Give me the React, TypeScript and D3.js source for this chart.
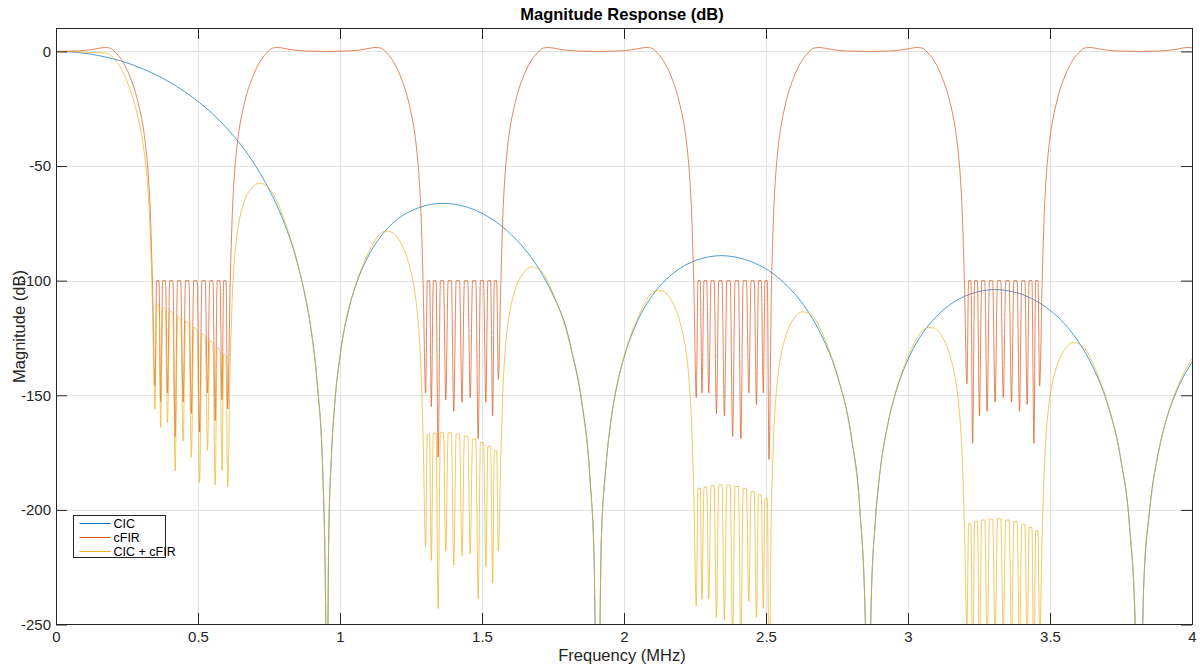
import React, { useEffect, useRef } from 'react';
import * as d3 from 'd3';

// [frequency MHz, magnitude dB]
const cicResponse: [number, number][] = [
  [0, 0], [0.05, -0.2], [0.1, -0.8], [0.15, -1.8], [0.2, -3.2], [0.25, -5], [0.3, -7.3], [0.35, -10.1],
  [0.4, -13.4], [0.45, -17.3], [0.5, -21.8], [0.55, -27.1], [0.6, -33.3], [0.65, -40.6], [0.7, -49.4],
  [0.75, -60.1], [0.8, -73.7], [0.85, -92.4], [0.88, -108.5], [0.9, -123], [0.92, -145], [0.94, -186],
  [0.95, -250], [0.953, -330], [0.96, -214], [0.97, -176], [0.98, -156], [1, -133], [1.03, -113],
  [1.06, -100.5], [1.1, -89.2], [1.15, -79.7], [1.2, -73.4], [1.25, -69.6], [1.3, -67.3], [1.36, -66.3],
  [1.4, -66.6], [1.45, -68], [1.5, -70.6], [1.55, -74.4], [1.6, -79.5], [1.65, -86.2], [1.7, -94.8],
  [1.75, -106.3], [1.8, -122.3], [1.82, -133], [1.85, -152], [1.88, -186], [1.895, -223], [1.906, -330],
  [1.92, -214], [1.935, -183], [1.95, -165], [1.98, -143], [2, -133.5], [2.05, -117], [2.1, -106.4],
  [2.15, -99.3], [2.2, -94.4], [2.25, -91.3], [2.3, -89.6], [2.34, -89.1], [2.4, -89.9], [2.45, -91.8],
  [2.5, -94.9], [2.55, -99.4], [2.6, -105.6], [2.65, -113.8], [2.7, -125], [2.75, -141], [2.8, -168],
  [2.83, -199], [2.85, -250], [2.859, -330], [2.87, -242], [2.885, -205], [2.9, -185], [2.93, -162],
  [2.96, -147.5], [3, -134.4], [3.05, -123.2], [3.1, -115.6], [3.15, -110.3], [3.2, -106.8], [3.25, -104.7],
  [3.31, -103.9], [3.35, -104.4], [3.4, -105.9], [3.45, -108.8], [3.5, -112.9], [3.55, -118.7],
  [3.6, -126.6], [3.65, -137.4], [3.7, -152.9], [3.75, -178.5], [3.78, -207], [3.8, -250], [3.812, -330],
  [3.83, -233], [3.85, -201], [3.88, -176], [3.9, -165], [3.95, -147], [4, -135.6],
];

const cfirResponse: [number, number][] = [
  [0, 0], [0.05, 0.1], [0.1, 0.4], [0.14, 1.1], [0.17, 1.7], [0.19, 1.5], [0.21, -0.5], [0.23, -3.5],
  [0.25, -8], [0.265, -12.5], [0.28, -18], [0.295, -25.5], [0.308, -34], [0.318, -44], [0.326, -56],
  [0.332, -70], [0.336, -85], [0.3395, -100],
  [0.3485, -146], [0.3545, -100], [0.3625, -100], [0.3685, -153], [0.3757, -100], [0.3853, -100],
  [0.3925, -149], [0.4006, -100], [0.4114, -100], [0.4195, -168], [0.4279, -100], [0.4391, -100],
  [0.4475, -153], [0.4562, -100], [0.4678, -100], [0.4765, -158], [0.4852, -100], [0.4968, -100],
  [0.5055, -166], [0.5139, -100], [0.5251, -100], [0.5335, -149], [0.5416, -100], [0.5524, -100],
  [0.5605, -161], [0.5677, -100], [0.5773, -100], [0.5845, -152], [0.5905, -100], [0.5985, -100],
  [0.6045, -156], [0.6135, -100],
  [0.617, -85], [0.621, -70], [0.627, -56], [0.635, -44], [0.645, -34], [0.658, -25.5], [0.673, -18],
  [0.688, -12.5], [0.703, -8], [0.723, -3.5], [0.743, -0.5], [0.763, 1.5], [0.783, 1.7], [0.813, 1.1],
  [0.853, 0.4], [0.903, 0.1], [0.953, 0], [1.003, 0.1], [1.053, 0.4], [1.093, 1.1], [1.123, 1.7],
  [1.143, 1.5], [1.163, -0.5], [1.183, -3.5], [1.203, -8], [1.218, -12.5], [1.233, -18], [1.248, -25.5],
  [1.261, -34], [1.271, -44], [1.279, -56], [1.285, -70], [1.289, -85], [1.2925, -100],
  [1.3015, -149], [1.3075, -100], [1.3155, -100], [1.3215, -155], [1.3287, -100], [1.3383, -100],
  [1.3455, -177], [1.3536, -100], [1.3644, -100], [1.3725, -152], [1.3809, -100], [1.3921, -100],
  [1.4005, -157], [1.4092, -100], [1.4208, -100], [1.4295, -153], [1.4382, -100], [1.4498, -100],
  [1.4585, -151], [1.4669, -100], [1.4781, -100], [1.4865, -169], [1.4946, -100], [1.5054, -100],
  [1.5135, -153], [1.5207, -100], [1.5303, -100], [1.5375, -159], [1.5435, -100], [1.5515, -100],
  [1.5575, -143], [1.5665, -100],
  [1.57, -85], [1.574, -70], [1.58, -56], [1.588, -44], [1.598, -34], [1.611, -25.5], [1.626, -18],
  [1.641, -12.5], [1.656, -8], [1.676, -3.5], [1.696, -0.5], [1.716, 1.5], [1.736, 1.7], [1.766, 1.1],
  [1.806, 0.4], [1.856, 0.1], [1.906, 0], [1.956, 0.1], [2.006, 0.4], [2.046, 1.1], [2.076, 1.7],
  [2.096, 1.5], [2.116, -0.5], [2.136, -3.5], [2.156, -8], [2.171, -12.5], [2.186, -18], [2.201, -25.5],
  [2.214, -34], [2.224, -44], [2.232, -56], [2.238, -70], [2.242, -85], [2.2455, -100],
  [2.2545, -151], [2.2605, -100], [2.2685, -100], [2.2745, -149], [2.2817, -100], [2.2913, -100],
  [2.2985, -149], [2.3066, -100], [2.3174, -100], [2.3255, -158], [2.3339, -100], [2.3451, -100],
  [2.3535, -159], [2.3622, -100], [2.3738, -100], [2.3825, -168], [2.3912, -100], [2.4028, -100],
  [2.4115, -169], [2.4199, -100], [2.4311, -100], [2.4395, -149], [2.4476, -100], [2.4584, -100],
  [2.4665, -154], [2.4737, -100], [2.4833, -100], [2.4905, -149], [2.4965, -100], [2.5045, -100],
  [2.5105, -178], [2.5195, -100],
  [2.523, -85], [2.527, -70], [2.533, -56], [2.541, -44], [2.551, -34], [2.564, -25.5], [2.579, -18],
  [2.594, -12.5], [2.609, -8], [2.629, -3.5], [2.649, -0.5], [2.669, 1.5], [2.689, 1.7], [2.719, 1.1],
  [2.759, 0.4], [2.809, 0.1], [2.859, 0], [2.909, 0.1], [2.959, 0.4], [2.999, 1.1], [3.029, 1.7],
  [3.049, 1.5], [3.069, -0.5], [3.089, -3.5], [3.109, -8], [3.124, -12.5], [3.139, -18], [3.154, -25.5],
  [3.167, -34], [3.177, -44], [3.185, -56], [3.191, -70], [3.195, -85], [3.1985, -100],
  [3.2075, -145], [3.2135, -100], [3.2215, -100], [3.2275, -171], [3.2347, -100], [3.2443, -100],
  [3.2515, -159], [3.2596, -100], [3.2704, -100], [3.2785, -157], [3.2869, -100], [3.2981, -100],
  [3.3065, -153], [3.3152, -100], [3.3268, -100], [3.3355, -151], [3.3442, -100], [3.3558, -100],
  [3.3645, -153], [3.3729, -100], [3.3841, -100], [3.3925, -157], [3.4006, -100], [3.4114, -100],
  [3.4195, -154], [3.4267, -100], [3.4363, -100], [3.4435, -171], [3.4495, -100], [3.4575, -100],
  [3.4635, -146], [3.4725, -100],
  [3.476, -85], [3.48, -70], [3.486, -56], [3.494, -44], [3.504, -34], [3.517, -25.5], [3.532, -18],
  [3.547, -12.5], [3.562, -8], [3.582, -3.5], [3.602, -0.5], [3.622, 1.5], [3.642, 1.7], [3.672, 1.1],
  [3.712, 0.4], [3.762, 0.1], [3.812, 0], [3.862, 0.1], [3.912, 0.4], [3.952, 1.1], [3.982, 1.7], [4, 1.6],
];

const combinedResponse: [number, number][] = [
  [0, 0], [0.05, -0.1], [0.1, -0.4], [0.14, -0.5], [0.17, -0.6], [0.19, -1.4], [0.21, -4], [0.23, -7.7],
  [0.25, -13], [0.265, -18.2], [0.28, -24.4], [0.295, -32.6], [0.308, -41.7], [0.318, -52.3],
  [0.326, -64.7], [0.332, -79], [0.336, -94.3], [0.3395, -109.5],
  [0.3485, -156], [0.3545, -110.2], [0.3625, -111], [0.3685, -164], [0.3757, -111.6], [0.3853, -112.4],
  [0.3925, -162], [0.4006, -113.3], [0.4114, -114.3], [0.4195, -183], [0.4279, -115.5], [0.4391, -116.5],
  [0.4475, -170], [0.4562, -117.7], [0.4678, -118.9], [0.4765, -177], [0.4852, -120.4], [0.4968, -121.6],
  [0.5055, -188], [0.5139, -123.2], [0.5251, -124.4], [0.5335, -174], [0.5416, -126.2], [0.5524, -127.4],
  [0.5605, -189], [0.5677, -129.3], [0.5773, -130.3], [0.5845, -183], [0.5905, -132.2], [0.5985, -133],
  [0.6045, -190], [0.6135, -135.2],
  [0.617, -120.7], [0.621, -106.2], [0.627, -93.1], [0.635, -82.3], [0.645, -73.8], [0.658, -67.4],
  [0.673, -62.5], [0.688, -59.7], [0.703, -57.9], [0.723, -57.5], [0.743, -58.9], [0.763, -61.8],
  [0.783, -66.9], [0.813, -76.8], [0.853, -93.5], [0.903, -125.8], [0.92, -145], [0.94, -186],
  [0.95, -250], [0.953, -330], [0.96, -214], [0.97, -176], [0.98, -156], [1.003, -130.3],
  [1.053, -102.6], [1.093, -89.7], [1.123, -82.6], [1.143, -79.3], [1.163, -78.4], [1.183, -78.9],
  [1.203, -81.3], [1.218, -84.4], [1.233, -88.7], [1.248, -95.2], [1.261, -103], [1.271, -112.4],
  [1.279, -124.1], [1.285, -137.8], [1.289, -152.7], [1.2925, -167.5],
  [1.3015, -216], [1.3075, -167], [1.3155, -167], [1.3215, -222], [1.3287, -166.5], [1.3383, -166.5],
  [1.3455, -243], [1.3536, -166.3], [1.3644, -166.3], [1.3725, -218], [1.3809, -166.4], [1.3921, -166.4],
  [1.4005, -224], [1.4092, -166.9], [1.4208, -166.9], [1.4295, -220], [1.4382, -167.8], [1.4498, -167.8],
  [1.4585, -219], [1.4669, -169.1], [1.4781, -169.1], [1.4865, -239], [1.4946, -170.6], [1.5054, -170.6],
  [1.5135, -225], [1.5207, -172.4], [1.5303, -172.4], [1.5375, -232], [1.5435, -174.2], [1.5515, -174.2],
  [1.5575, -218], [1.5665, -175.8],
  [1.57, -161.2], [1.574, -146.6], [1.58, -133.2], [1.588, -122.1], [1.598, -113.3], [1.611, -106.3],
  [1.626, -100.8], [1.641, -97.4], [1.656, -95.1], [1.676, -94], [1.696, -94.8], [1.716, -96.9],
  [1.736, -101.5], [1.766, -110.5], [1.806, -126], [1.856, -157], [1.88, -186], [1.895, -223],
  [1.906, -330], [1.92, -214], [1.935, -183], [1.956, -159.3], [1.98, -143], [2.006, -130.6],
  [2.046, -116.9], [2.076, -109.3], [2.096, -105.6], [2.116, -104.4], [2.136, -104.5], [2.156, -106.6],
  [2.171, -109.5], [2.186, -113.6], [2.201, -119.9], [2.214, -127.4], [2.224, -136.7], [2.232, -148.3],
  [2.238, -162], [2.242, -176.8], [2.2455, -191.5],
  [2.2545, -242], [2.2605, -190.6], [2.2685, -190.6], [2.2745, -239], [2.2817, -190], [2.2913, -190],
  [2.2985, -239], [2.3066, -189.4], [2.3174, -189.4], [2.3255, -247], [2.3339, -189.1], [2.3451, -189.1],
  [2.3535, -248], [2.3622, -189.2], [2.3738, -189.2], [2.3825, -257], [2.3912, -189.8], [2.4028, -189.8],
  [2.4115, -259], [2.4199, -190.7], [2.4311, -190.7], [2.4395, -240], [2.4476, -192], [2.4584, -192],
  [2.4665, -247], [2.4737, -193.4], [2.4833, -193.4], [2.4905, -243], [2.4965, -195], [2.5045, -195],
  [2.5105, -274], [2.5195, -196.3],
  [2.523, -181.8], [2.527, -167.2], [2.533, -153.7], [2.541, -142.5], [2.551, -133.5], [2.564, -126.5],
  [2.579, -120.8], [2.594, -117.3], [2.609, -114.9], [2.629, -113.6], [2.649, -114.1], [2.669, -116.1],
  [2.689, -120.5], [2.719, -129.3], [2.759, -144.5], [2.809, -175], [2.83, -199], [2.85, -250],
  [2.859, -330], [2.87, -242], [2.885, -205], [2.909, -176.6], [2.93, -162], [2.959, -147.5],
  [2.999, -133.5], [3.029, -125.7], [3.049, -121.9], [3.069, -120.5], [3.089, -120.6], [3.109, -122.5],
  [3.124, -125.3], [3.139, -129.3], [3.154, -135.5], [3.167, -142.9], [3.177, -152.2], [3.185, -163.7],
  [3.191, -177.3], [3.195, -192.1], [3.1985, -206.9],
  [3.2075, -251], [3.2135, -206], [3.2215, -206], [3.2275, -277], [3.2347, -205.1], [3.2443, -205.1],
  [3.2515, -264], [3.2596, -204.4], [3.2704, -204.4], [3.2785, -261], [3.2869, -204], [3.2981, -204],
  [3.3065, -257], [3.3152, -203.9], [3.3268, -203.9], [3.3355, -255], [3.3442, -204.4], [3.3558, -204.4],
  [3.3645, -258], [3.3729, -205.1], [3.3841, -205.1], [3.3925, -263], [3.4006, -206.2], [3.4114, -206.2],
  [3.4195, -261], [3.4267, -207.7], [3.4363, -207.7], [3.4435, -279], [3.4495, -209.1], [3.4575, -209.1],
  [3.4635, -256], [3.4725, -210.6],
  [3.476, -195.8], [3.48, -181.1], [3.486, -167.6], [3.494, -156.3], [3.504, -147.3], [3.517, -140.2],
  [3.532, -134.5], [3.547, -130.9], [3.562, -128.4], [3.582, -127], [3.602, -127.5], [3.622, -129.4],
  [3.642, -133.7], [3.672, -142.3], [3.712, -157.3], [3.75, -178.5], [3.78, -207], [3.8, -250],
  [3.812, -330], [3.83, -233], [3.85, -201], [3.862, -188.9], [3.88, -176], [3.912, -159.6],
  [3.952, -145.5], [3.982, -137.6], [4, -134],
];

const seriesNames = ['CIC', 'cFIR', 'CIC + cFIR'];
const seriesColors = ['#0072BD', '#D95319', '#EDB120'];
const xTicks = [0, 0.5, 1, 1.5, 2, 2.5, 3, 3.5, 4];
const yTicks = [0, -50, -100, -150, -200, -250];

const FONT = '"Liberation Sans", Arial, Helvetica, sans-serif';
const AXIS_COLOR = '#262626';

export default function App() {
  const ref = useRef<SVGSVGElement>(null);

  useEffect(() => {
    const W = 1200, H = 666;
    const left = 56, right = 1192, top = 28.5, bottom = 624.5;
    const svg = d3.select(ref.current);
    svg.selectAll('*').remove();

    const x = d3.scaleLinear().domain([0, 4]).range([left, right]);
    const y = d3.scaleLinear().domain([-250, 10]).range([bottom, top]);

    svg.append('rect').attr('width', W).attr('height', H).attr('fill', '#fff');

    // grid
    const grid = svg.append('g').attr('stroke', '#e3e3e3').attr('stroke-width', 1);
    grid.selectAll('.gx').data(xTicks.slice(1, -1)).join('line')
      .attr('x1', d => Math.round(x(d)) + 0.5).attr('x2', d => Math.round(x(d)) + 0.5)
      .attr('y1', top).attr('y2', bottom);
    grid.selectAll('.gy').data(yTicks.slice(0, -1)).join('line')
      .attr('y1', d => Math.round(y(d)) + 0.5).attr('y2', d => Math.round(y(d)) + 0.5)
      .attr('x1', left).attr('x2', right);

    // curves
    svg.append('clipPath').attr('id', 'plot-clip')
      .append('rect').attr('x', left).attr('y', top).attr('width', right - left).attr('height', bottom - top);

    const line = d3.line<[number, number]>()
      .x(d => x(d[0])).y(d => y(d[1]))
      .curve(d3.curveMonotoneX);

    const allSeries = [cicResponse, cfirResponse, combinedResponse];
    svg.append('g').attr('clip-path', 'url(#plot-clip)')
      .selectAll('path').data(allSeries).join('path')
      .attr('d', d => line(d))
      .attr('fill', 'none')
      .attr('stroke', (d, i) => seriesColors[i])
      .attr('stroke-width', 0.7);

    // axes (MATLAB style box, inward ticks)
    const styleAxis = (g: any) => {
      g.selectAll('path, line').attr('stroke', AXIS_COLOR);
      g.selectAll('text').attr('fill', AXIS_COLOR).style('font-family', FONT).style('font-size', '15px');
    };
    svg.append('g').attr('transform', `translate(0,${Math.floor(bottom)})`)
      .call(d3.axisBottom(x).tickValues(xTicks).tickFormat(d => String(d)).tickSizeInner(-11).tickSizeOuter(0).tickPadding(7))
      .call(styleAxis);
    svg.append('g').attr('transform', `translate(0,${Math.floor(top)})`)
      .call(d3.axisTop(x).tickValues(xTicks).tickFormat(() => '').tickSizeInner(-11).tickSizeOuter(0))
      .call(styleAxis);
    svg.append('g').attr('transform', `translate(${left},0)`)
      .call(d3.axisLeft(y).tickValues(yTicks).tickFormat(d => String(d)).tickSizeInner(-11).tickSizeOuter(0).tickPadding(5))
      .call(styleAxis);
    svg.append('g').attr('transform', `translate(${right},0)`)
      .call(d3.axisRight(y).tickValues(yTicks).tickFormat(() => '').tickSizeInner(-11).tickSizeOuter(0))
      .call(styleAxis);

    // titles
    svg.append('text').attr('x', (left + right) / 2 - 2).attr('y', 20)
      .attr('text-anchor', 'middle').attr('font-weight', 'bold')
      .style('font-family', FONT).style('font-size', '16.5px').attr('fill', '#000')
      .text('Magnitude Response (dB)');
    svg.append('text').attr('x', (left + right) / 2 - 2).attr('y', 661)
      .attr('text-anchor', 'middle')
      .style('font-family', FONT).style('font-size', '16.5px').attr('fill', AXIS_COLOR)
      .text('Frequency (MHz)');
    svg.append('text')
      .attr('transform', `translate(25,${(top + bottom) / 2}) rotate(-90)`)
      .attr('text-anchor', 'middle')
      .style('font-family', FONT).style('font-size', '16.5px').attr('fill', AXIS_COLOR)
      .text('Magnitude (dB)');

    // legend
    const lg = svg.append('g').attr('transform', 'translate(73.5,515.5)');
    lg.append('rect').attr('width', 92).attr('height', 42)
      .attr('fill', '#fff').attr('stroke', AXIS_COLOR).attr('stroke-width', 1);
    const rows = lg.selectAll('.row').data(seriesNames).join('g')
      .attr('transform', (d, i) => `translate(0,${8 + i * 14})`);
    rows.append('line').attr('x1', 6).attr('x2', 37).attr('y1', 0).attr('y2', 0)
      .attr('stroke', (d, i) => seriesColors[i]).attr('stroke-width', 1);
    rows.append('text').attr('x', 40).attr('y', 4.5)
      .style('font-family', FONT).style('font-size', '12.5px').attr('fill', '#000')
      .text(d => d);
  }, []);

  return (
    <svg ref={ref} width={1200} height={666}
      style={{ position: 'absolute', left: 0, top: 0, display: 'block' }} />
  );
}
